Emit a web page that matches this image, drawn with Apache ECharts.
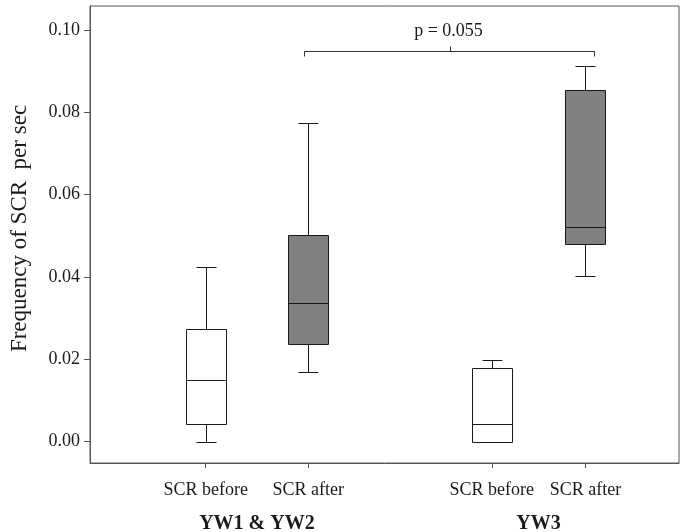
<!DOCTYPE html>
<html>
<head>
<meta charset="utf-8">
<script src="https://cdn.jsdelivr.net/npm/echarts@6/dist/echarts.min.js"></script>
<style>
html,body{margin:0;padding:0;background:#fff;}
#chart{width:685px;height:532px;}
</style>
</head>
<body>
<div id="chart"></div>
<script>
// ---- data ----
const categories = ['SCR before', 'SCR after', 'SCR before', 'SCR after'];
const groups = ['YW1 & YW2', 'YW3'];
const lowWhisker  = [0.0000, 0.0170, 0.0000, 0.0402];
const q1          = [0.0043, 0.0238, 0.0000, 0.0479];
const median      = [0.0150, 0.0336, 0.0043, 0.0521];
const q3          = [0.0274, 0.0503, 0.0179, 0.0854];
const highWhisker = [0.0425, 0.0774, 0.0198, 0.0912];
const yTicks = [0, 0.02, 0.04, 0.06, 0.08, 0.10];
const pLabel = 'p = 0.055';
const pBracketLevel = 0.0949;

// ---- layout (not data) ----
const slotPos = [19.64, 37.04, 68.21, 84.11];
const fills = ['#ffffff', '#808080', '#ffffff', '#808080'];
const FONT = '"Liberation Serif", "DejaVu Serif", serif';
const TXT = '#1a1a1a';
const Y_MIN = -0.0052, Y_MAX = 0.1058;

const boxData = categories.map((c, i) => [slotPos[i], lowWhisker[i], q1[i], median[i], q3[i], highWhisker[i]]);

function renderBox(params, api) {
  const i = params.dataIndex;
  const x = api.value(0);
  const lo = api.coord([x, api.value(1)]);
  const b1 = api.coord([x, api.value(2)]);
  const md = api.coord([x, api.value(3)]);
  const b3 = api.coord([x, api.value(4)]);
  const hi = api.coord([x, api.value(5)]);
  const cx = Math.round(lo[0]) + 0.5;
  const half = 20, cap = 10;
  const r = v => Math.round(v) + 0.5;
  const ls = { stroke: '#1a1a1a', lineWidth: 1 };
  const children = [];
  if (r(hi[1]) < r(b3[1])) {
    children.push({ type: 'line', shape: { x1: cx, y1: r(hi[1]), x2: cx, y2: r(b3[1]) }, style: ls });
    children.push({ type: 'line', shape: { x1: cx - cap, y1: r(hi[1]), x2: cx + cap, y2: r(hi[1]) }, style: ls });
  }
  if (r(lo[1]) > r(b1[1])) {
    children.push({ type: 'line', shape: { x1: cx, y1: r(lo[1]), x2: cx, y2: r(b1[1]) }, style: ls });
    children.push({ type: 'line', shape: { x1: cx - cap, y1: r(lo[1]), x2: cx + cap, y2: r(lo[1]) }, style: ls });
  }
  children.push({ type: 'rect', shape: { x: cx - half, y: r(b3[1]), width: half * 2, height: r(b1[1]) - r(b3[1]) },
    style: { fill: fills[i], stroke: '#1a1a1a', lineWidth: 1 } });
  children.push({ type: 'line', shape: { x1: cx - half, y1: r(md[1]), x2: cx + half, y2: r(md[1]) }, style: ls });
  return { type: 'group', children };
}

function renderAnno(params, api) {
  const a = api.coord([slotPos[1], pBracketLevel]);
  const b = api.coord([slotPos[3], pBracketLevel]);
  const y = Math.round(a[1]) + 0.5;
  const xl = Math.round(a[0] - 4) + 0.5;
  const xr = Math.round(b[0] + 9) + 0.5;
  const xm = Math.round((xl + xr) / 2) + 0.5;
  const ls = { stroke: '#333', lineWidth: 1, fill: null };
  const children = [
    { type: 'polyline', shape: { points: [[xl, y + 5], [xl, y], [xr, y], [xr, y + 5]] }, style: ls },
    { type: 'line', shape: { x1: xm, y1: y, x2: xm, y2: y - 5 }, style: ls },
    { type: 'text', x: xm - 2, y: y - 20, style: { text: pLabel, fill: TXT, font: '18px ' + FONT, align: 'center', verticalAlign: 'middle' } }
  ];
  groups.forEach((g, k) => {
    const p0 = api.coord([slotPos[2 * k], 0]);
    const p1 = api.coord([slotPos[2 * k + 1], 0]);
    const bottom = api.coord([slotPos[0], Y_MIN])[1];
    children.push({ type: 'text', x: (p0[0] + p1[0]) / 2, y: bottom + 61,
      style: { text: g, fill: TXT, font: 'bold 20px ' + FONT, align: 'center', verticalAlign: 'middle' } });
  });
  return { type: 'group', children };
}

const chart = echarts.init(document.getElementById('chart'), null, { renderer: 'canvas' });
chart.setOption({
  animation: false,
  backgroundColor: '#fff',
  grid: { left: 88, top: 6, right: 6, bottom: 69, show: true, borderColor: '#555', borderWidth: 1, backgroundColor: 'transparent' },
  xAxis: {
    type: 'value', min: 0, max: 100,
    axisLine: { show: true, onZero: false, lineStyle: { color: '#555' } },
    axisTick: { show: true, length: 5, customValues: slotPos, lineStyle: { color: '#555' } },
    axisLabel: { customValues: slotPos, margin: 18, color: TXT, fontFamily: FONT, fontSize: 18,
      formatter: v => categories[slotPos.indexOf(v)] || '' },
    splitLine: { show: false }
  },
  yAxis: {
    type: 'value', min: Y_MIN, max: Y_MAX,
    name: 'Frequency of SCR  per sec', nameLocation: 'middle', nameGap: 59,
    nameTextStyle: { color: TXT, fontFamily: FONT, fontSize: 23, padding: [0, 0, 0, 12] },
    axisLine: { show: true, onZero: false, lineStyle: { color: '#555' } },
    axisTick: { show: true, length: 6, customValues: yTicks, lineStyle: { color: '#555' } },
    axisLabel: { customValues: yTicks, margin: 10, color: TXT, fontFamily: FONT, fontSize: 18,
      formatter: v => v.toFixed(2) },
    splitLine: { show: false }
  },
  series: [
    { type: 'custom', renderItem: renderBox, data: boxData, encode: { x: 0, y: [1, 2, 3, 4, 5] }, clip: false, silent: true },
    { type: 'custom', renderItem: renderAnno, data: [[0, 0]], encode: { x: 0, y: 1 }, clip: false, silent: true }
  ]
});
</script>
</body>
</html>
